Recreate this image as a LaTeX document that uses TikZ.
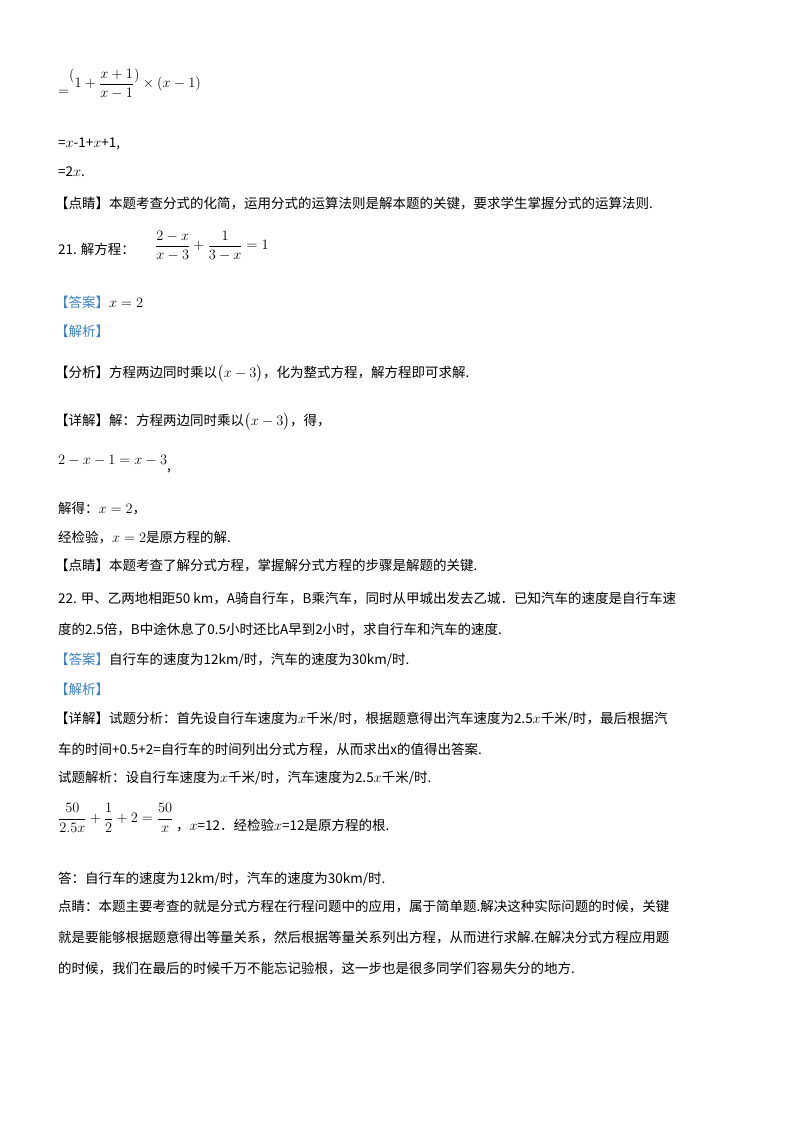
\documentclass[tikz,border=0pt]{standalone}
\usepackage{amsmath}
\usepackage{fontspec}
\setmainfont{Liberation Serif}
\newfontfamily\cjk{Noto Sans CJK SC}
\definecolor{hdblue}{RGB}{60,130,200}
\begin{document}
\begin{tikzpicture}[x=1pt,y=-1pt,
  t/.style={anchor=base west,inner sep=0pt,font=\fontsize{13.5}{16}\selectfont\cjk},
  m/.style={anchor=west,inner sep=0pt,font=\fontsize{15}{18}\selectfont}]
\useasboundingbox[fill=white] (0,0) rectangle (800,1132);
\node[m] (l1) at (58,84) {\raisebox{-8pt}{$=$}$\raisebox{8pt}{$($}1+\dfrac{x+1}{x-1}\raisebox{8pt}{$)$}\times(x-1)$};
\node[t] (l2) at (58,147) {=$x$-1+$x$+1,};
\node[t] (l3) at (58,176) {=2$x$.};
\node[t] (l4) at (55,208) {【点睛】本题考查分式的化简，运用分式的运算法则是解本题的关键，要求学生掌握分式的运算法则.};
\node[t] (l5) at (58,254) {21. 解方程：};
\node[m] (l5b) at (155,246) {$\dfrac{2-x}{x-3}+\dfrac{1}{3-x}=1$};
\node[t] (l6) at (55,307) {\textcolor{hdblue}{【答案】}$x=2$};
\node[t] (l7) at (55,336) {\textcolor{hdblue}{【解析】}};
\node[t] (l8) at (55,377) {【分析】方程两边同时乘以$\bigl(x-3\bigr)$，化为整式方程，解方程即可求解.};
\node[t] (l9) at (55,425) {【详解】解：方程两边同时乘以$\bigl(x-3\bigr)$，得，};
\node[t] (l10) at (58,464) {$2-x-1=x-3$\raisebox{-6pt}{,}};
\node[t] (l11) at (58,513) {解得：$x=2$，};
\node[t] (l12) at (58,542) {经检验，$x=2$是原方程的解.};
\node[t] (l13) at (55,570) {【点睛】本题考查了解分式方程，掌握解分式方程的步骤是解题的关键.};
\node[t] (l14) at (58,603) {22. 甲、乙两地相距50 km，A骑自行车，B乘汽车，同时从甲城出发去乙城．已知汽车的速度是自行车速};
\node[t] (l15) at (58,634) {度的2.5倍，B中途休息了0.5小时还比A早到2小时，求自行车和汽车的速度.};
\node[t] (l16) at (55,664) {\textcolor{hdblue}{【答案】}自行车的速度为12km/时，汽车的速度为30km/时.};
\node[t] (l17) at (55,694) {\textcolor{hdblue}{【解析】}};
\node[t] (l18) at (55,723) {【详解】试题分析：首先设自行车速度为$x$千米/时，根据题意得出汽车速度为2.5$x$千米/时，最后根据汽};
\node[t] (l19) at (58,754) {车的时间+0.5+2=自行车的时间列出分式方程，从而求出x的值得出答案.};
\node[t] (l20) at (58,782) {试题解析：设自行车速度为$x$千米/时，汽车速度为2.5$x$千米/时.};
\node[m] (l21) at (58,818) {$\dfrac{50}{2.5x}+\dfrac{1}{2}+2=\dfrac{50}{x}$};
\node[t] (l21b) at (176,830) {，$x$=12．经检验$x$=12是原方程的根.};
\node[t] (l22) at (58,883) {答：自行车的速度为12km/时，汽车的速度为30km/时.};
\node[t] (l23) at (58,911) {点睛：本题主要考查的就是分式方程在行程问题中的应用，属于简单题.解决这种实际问题的时候，关键};
\node[t] (l24) at (58,942) {就是要能够根据题意得出等量关系，然后根据等量关系列出方程，从而进行求解.在解决分式方程应用题};
\node[t] (l25) at (58,973) {的时候，我们在最后的时候千万不能忘记验根，这一步也是很多同学们容易失分的地方.};
\end{tikzpicture}
\end{document}
